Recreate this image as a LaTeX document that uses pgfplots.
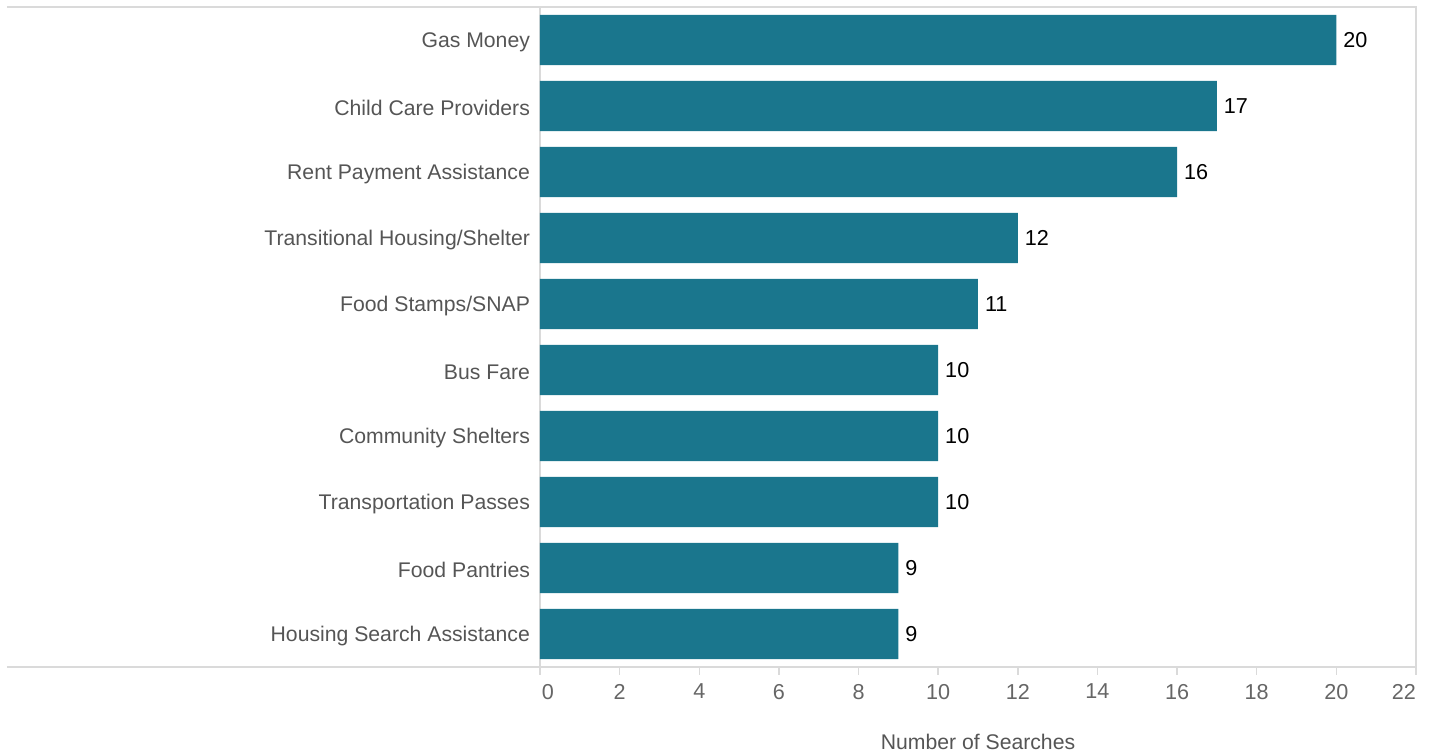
\documentclass[border=0pt]{standalone}
\usepackage{fontspec}
\setmainfont{Liberation Sans}
\usepackage{pgfplots}
\pgfplotsset{compat=1.18}
\definecolor{barc}{RGB}{26,118,141}
\definecolor{gridc}{RGB}{218,218,218}
\definecolor{labc}{RGB}{85,85,85}
\definecolor{tickc}{RGB}{102,102,102}
\begin{document}
\begin{tikzpicture}
\path[use as bounding box] (-270pt,-43.5pt) rectangle (445pt,333.5pt);
\begin{axis}[
  at={(0,0)}, anchor=south west,
  scale only axis, width=438pt, height=330pt,
  xbar, bar width=0.76,
  xmin=0, xmax=22, ymin=-0.5, ymax=9.5,
  clip=false,
  xtick={0,2,4,6,8,10,12,14,16,18,20,22},
  xticklabels={{\makebox[0pt][l]{\hspace{1pt}0}},2,4,6,8,10,12,14,16,18,20,{\makebox[0pt][r]{22}}},
  ytick={0,1,2,3,4,5,6,7,8,9},
  yticklabels={Housing Search Assistance,Food Pantries,Transportation Passes,Community Shelters,Bus Fare,Food Stamps/SNAP,Transitional Housing/Shelter,Rent Payment Assistance,Child Care Providers,Gas Money},
  axis line style={gridc, line width=0.7pt},
  x tick style={gridc, line width=0.7pt},
  y tick style={draw=none},
  tick align=outside, major tick length=4pt,
  xtick pos=bottom, ytick pos=left,
  /pgf/number format/assume math mode=true,
  xticklabel style={font=\fontsize{10.8}{13}\selectfont, text=tickc, yshift=-1pt},
  yticklabel style={font=\fontsize{10.6}{13}\selectfont, text=labc, xshift=2.5pt, yshift=-1pt},
  xlabel={Number of Searches},
  xlabel style={font=\fontsize{10.6}{13}\selectfont, text=labc, at={(rel axis cs:0.5,0)}, anchor=base, yshift=-41.5pt},
  nodes near coords,
  nodes near coords style={font=\fontsize{10.8}{13}\selectfont, text=black, anchor=west},
]
\addplot[fill=barc, draw=none] coordinates {
(9,0) (9,1) (10,2) (10,3) (10,4) (11,5) (12,6) (16,7) (17,8) (20,9)
};
\draw[gridc, line width=0.7pt] ([xshift=-266.5pt]rel axis cs:0,1) -- (rel axis cs:0,1);
\draw[gridc, line width=0.7pt] ([xshift=-266.5pt]rel axis cs:0,0) -- (rel axis cs:0,0);
\end{axis}
\end{tikzpicture}
\end{document}
